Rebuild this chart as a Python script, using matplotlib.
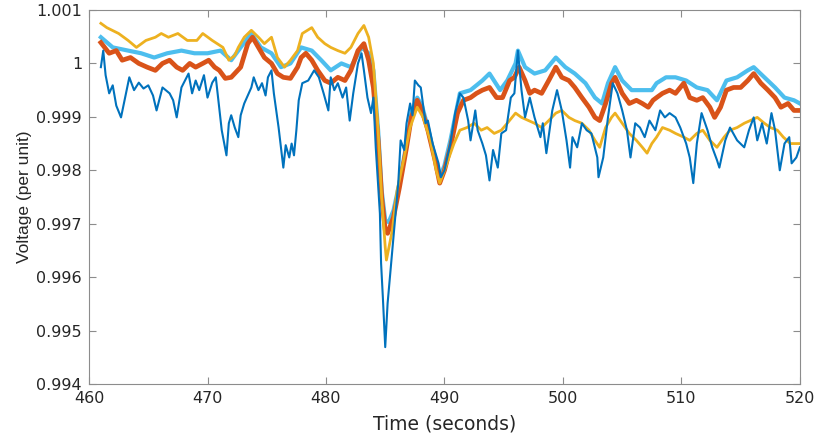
import numpy as np
import matplotlib
matplotlib.use('Agg')
import matplotlib.pyplot as plt

# bus voltages around the disturbance at ~485 s (per unit)
t_blue = [461.0, 461.2, 461.4, 461.7, 462.0, 462.3, 462.7, 463.0, 463.4, 463.8,
          464.2, 464.6, 465.0, 465.4, 465.7, 466.2, 466.8, 467.1, 467.4, 467.8,
          468.4, 468.7, 469.0, 469.3, 469.7, 470.0, 470.4, 470.7, 471.2, 471.6,
          471.8, 472.0, 472.3, 472.6, 472.8, 473.1, 473.4, 473.7, 473.9, 474.3,
          474.6, 474.9, 475.1, 475.4, 475.6, 476.0, 476.4, 476.6, 476.9, 477.1,
          477.3, 477.5, 477.7, 478.0, 478.5, 479.0, 479.4, 479.8, 480.2, 480.4,
          480.7, 481.0, 481.4, 481.7, 482.0, 482.3, 482.7, 483.0, 483.2, 483.5,
          483.8, 484.0, 484.2, 484.55, 484.65, 484.8, 485.0, 485.2, 485.5, 485.8,
          486.1, 486.3, 486.6, 486.8, 487.1, 487.3, 487.5, 487.8, 488.0, 488.4,
          488.6, 489.0, 489.5, 489.7, 490.0, 490.5, 490.9, 491.3, 491.6, 492.0,
          492.2, 492.6, 492.8, 493.2, 493.5, 493.8, 494.1, 494.5, 494.8, 495.2,
          495.6, 495.9, 496.2, 496.5, 496.8, 497.2, 497.6, 498.1, 498.3, 498.6,
          499.1, 499.5, 499.9, 500.3, 500.6, 500.8, 501.2, 501.6, 502.0, 502.4,
          502.9, 503.0, 503.4, 503.8, 504.2, 504.6, 505.0, 505.4, 505.7, 506.1,
          506.5, 506.9, 507.3, 507.8, 508.2, 508.6, 509.0, 509.5, 509.9, 510.4,
          510.7, 511.0, 511.3, 511.7, 512.2, 512.6, 513.0, 513.2, 513.7, 514.1,
          514.7, 515.3, 515.7, 516.1, 516.4, 516.8, 517.2, 517.6, 517.9, 518.3,
          518.7, 519.1, 519.3, 519.7, 520.0]
v_blue = [0.99993, 1.00024, 0.99978, 0.99944, 0.99959, 0.99921, 0.99899, 0.99931, 0.99974, 0.99950,
          0.99964, 0.99953, 0.99959, 0.99940, 0.99912, 0.99955, 0.99944, 0.99931, 0.99899, 0.99955,
          0.99981, 0.99944, 0.99968, 0.99950, 0.99978, 0.99936, 0.99964, 0.99974, 0.99875, 0.99828,
          0.99888, 0.99903, 0.99880, 0.99862, 0.99903, 0.99925, 0.99940, 0.99955, 0.99974, 0.99950,
          0.99963, 0.99940, 0.99974, 0.99987, 0.99944, 0.99880, 0.99805, 0.99847, 0.99824, 0.99850,
          0.99828, 0.99875, 0.99931, 0.99963, 0.99968, 0.99987, 0.99974, 0.99944, 0.99912, 0.99974,
          0.99950, 0.99963, 0.99936, 0.99955, 0.99893, 0.99944, 1.00000, 1.00019, 0.99987, 0.99936,
          0.99907, 0.99936, 0.99843, 0.99719, 0.99626, 0.99562, 0.99469, 0.99551, 0.99626, 0.99701,
          0.99776, 0.99856, 0.99838, 0.99888, 0.99925, 0.99903, 0.99968, 0.99959, 0.99955, 0.99888,
          0.99893, 0.99850, 0.99813, 0.99787, 0.99800, 0.99850, 0.99907, 0.99944, 0.99936, 0.99893,
          0.99856, 0.99912, 0.99875, 0.99850, 0.99828, 0.99781, 0.99838, 0.99805, 0.99869, 0.99875,
          0.99936, 0.99944, 1.00024, 0.99950, 0.99899, 0.99936, 0.99899, 0.99862, 0.99888, 0.99832,
          0.99912, 0.99950, 0.99912, 0.99856, 0.99805, 0.99862, 0.99843, 0.99888, 0.99875, 0.99869,
          0.99824, 0.99787, 0.99824, 0.99899, 0.99963, 0.99944, 0.99912, 0.99875, 0.99824, 0.99888,
          0.99880, 0.99862, 0.99893, 0.99875, 0.99912, 0.99899, 0.99907, 0.99899, 0.99880, 0.99850,
          0.99824, 0.99776, 0.99850, 0.99907, 0.99875, 0.99843, 0.99819, 0.99805, 0.99856, 0.99880,
          0.99856, 0.99843, 0.99875, 0.99899, 0.99856, 0.99888, 0.99850, 0.99907, 0.99875, 0.99800,
          0.99850, 0.99862, 0.99813, 0.99824, 0.99843]

t_orange = [461.0, 461.7, 462.3, 462.8, 463.5, 464.2, 464.9, 465.6, 466.2, 466.8,
            467.4, 467.9, 468.5, 469.0, 469.6, 470.1, 470.6, 471.0, 471.5, 472.0,
            472.8, 473.4, 473.8, 474.3, 474.8, 475.4, 475.9, 476.4, 477.0, 477.6,
            477.9, 478.3, 478.8, 479.3, 479.9, 480.4, 481.0, 481.6, 482.1, 482.7,
            483.2, 483.6, 484.0, 484.4, 484.7, 485.0, 485.2, 485.7, 486.2, 486.8,
            487.2, 487.7, 488.1, 488.6, 489.2, 489.6, 490.0, 490.5, 491.1, 491.6,
            492.2, 492.7, 493.2, 493.8, 494.4, 494.9, 495.5, 495.9, 496.3, 496.8,
            497.2, 497.6, 498.2, 498.8, 499.4, 499.9, 500.5, 501.0, 501.6, 502.2,
            502.7, 503.1, 503.6, 504.1, 504.4, 505.0, 505.6, 506.2, 506.7, 507.2,
            507.6, 507.9, 508.4, 509.0, 509.5, 510.2, 510.7, 511.3, 511.8, 512.4,
            512.8, 513.3, 513.8, 514.4, 515.0, 515.6, 516.1, 516.7, 517.3, 517.9,
            518.4, 519.0, 519.5, 520.0]
v_orange = [1.00039, 1.00019, 1.00024, 1.00006, 1.00011, 1.00000, 0.99993, 0.99987, 1.00000, 1.00006,
            0.99993, 0.99987, 1.00000, 0.99993, 1.00000, 1.00006, 0.99993, 0.99987, 0.99972, 0.99974,
            0.99993, 1.00037, 1.00049, 1.00030, 1.00011, 1.00000, 0.99981, 0.99974, 0.99972, 0.99993,
            1.00011, 1.00019, 1.00006, 0.99987, 0.99968, 0.99963, 0.99974, 0.99968, 0.99987, 1.00024,
            1.00037, 1.00006, 0.99955, 0.99856, 0.99749, 0.99688, 0.99682, 0.99712, 0.99768, 0.99843,
            0.99899, 0.99931, 0.99912, 0.99875, 0.99819, 0.99776, 0.99800, 0.99843, 0.99907, 0.99931,
            0.99936, 0.99944, 0.99950, 0.99955, 0.99936, 0.99936, 0.99968, 0.99974, 0.99993, 0.99968,
            0.99944, 0.99950, 0.99944, 0.99968, 0.99993, 0.99974, 0.99968, 0.99955, 0.99936, 0.99918,
            0.99899, 0.99893, 0.99925, 0.99963, 0.99974, 0.99944, 0.99925, 0.99931, 0.99925, 0.99918,
            0.99931, 0.99936, 0.99944, 0.99950, 0.99944, 0.99963, 0.99936, 0.99931, 0.99936, 0.99918,
            0.99899, 0.99918, 0.99950, 0.99955, 0.99955, 0.99968, 0.99981, 0.99963, 0.99950, 0.99936,
            0.99918, 0.99925, 0.99912, 0.99912]

t_yellow = [461.0, 461.5, 462.5, 463.3, 464.0, 464.8, 465.6, 466.1, 466.7, 467.5,
            468.3, 469.1, 469.6, 470.4, 471.3, 471.8, 472.3, 472.6, 473.1, 473.7,
            474.3, 474.8, 475.4, 475.9, 476.5, 477.0, 477.6, 478.0, 478.8, 479.3,
            479.9, 480.4, 481.0, 481.6, 482.1, 482.7, 483.2, 483.6, 484.0, 484.4,
            484.7, 485.0, 485.1, 485.6, 486.0, 486.6, 487.1, 487.7, 488.2, 488.8,
            489.3, 489.6, 490.0, 490.8, 491.3, 491.9, 492.5, 493.1, 493.6, 494.2,
            494.8, 495.3, 496.0, 496.5, 497.1, 497.6, 498.2, 498.8, 499.4, 499.9,
            500.5, 501.0, 501.6, 502.2, 502.7, 503.1, 503.6, 504.1, 504.4, 505.0,
            505.6, 506.2, 506.7, 507.1, 507.5, 507.9, 508.4, 509.0, 509.5, 510.2,
            510.7, 511.3, 511.8, 512.4, 513.0, 513.6, 514.1, 514.7, 515.3, 515.8,
            516.4, 517.0, 517.5, 518.1, 518.6, 519.2, 520.0]
v_yellow = [1.00075, 1.00067, 1.00056, 1.00043, 1.00030, 1.00043, 1.00049, 1.00056, 1.00049, 1.00056,
            1.00043, 1.00043, 1.00056, 1.00043, 1.00030, 1.00006, 1.00015, 1.00030, 1.00049, 1.00062,
            1.00049, 1.00037, 1.00049, 1.00011, 0.99993, 1.00006, 1.00024, 1.00056, 1.00067, 1.00049,
            1.00037, 1.00030, 1.00024, 1.00019, 1.00030, 1.00056, 1.00071, 1.00049, 1.00000, 0.99875,
            0.99749, 0.99656, 0.99632, 0.99688, 0.99762, 0.99824, 0.99880, 0.99918, 0.99899, 0.99856,
            0.99800, 0.99776, 0.99800, 0.99850, 0.99875, 0.99880, 0.99888, 0.99875, 0.99880, 0.99869,
            0.99875, 0.99888, 0.99907, 0.99899, 0.99893, 0.99888, 0.99880, 0.99893, 0.99907, 0.99912,
            0.99899, 0.99893, 0.99888, 0.99875, 0.99856, 0.99843, 0.99880, 0.99899, 0.99907, 0.99888,
            0.99869, 0.99856, 0.99843, 0.99832, 0.99850, 0.99862, 0.99880, 0.99875, 0.99869, 0.99862,
            0.99856, 0.99869, 0.99875, 0.99856, 0.99843, 0.99862, 0.99875, 0.99880, 0.99888, 0.99893,
            0.99899, 0.99888, 0.99880, 0.99875, 0.99862, 0.99850, 0.99850]

t_cyan = [461.0, 462.0, 463.3, 464.4, 465.5, 466.6, 467.8, 468.9, 470.0, 471.1,
          472.0, 472.8, 473.7, 474.5, 475.4, 476.2, 477.0, 477.9, 478.8, 479.6,
          480.4, 481.3, 482.1, 483.0, 483.6, 484.0, 484.4, 484.7, 485.0, 485.3,
          485.7, 486.2, 486.8, 487.2, 487.7, 488.1, 488.6, 489.2, 489.6, 490.0,
          490.5, 491.3, 492.2, 493.2, 493.8, 494.7, 495.3, 496.0, 496.2, 496.8,
          497.6, 498.5, 499.4, 500.2, 501.0, 501.9, 502.7, 503.3, 503.8, 504.4,
          505.0, 505.8, 506.7, 507.5, 507.9, 508.7, 509.5, 510.4, 511.3, 512.2,
          513.0, 513.8, 514.7, 515.6, 516.1, 517.0, 517.9, 518.7, 519.5, 520.0]
v_cyan = [1.00049, 1.00030, 1.00024, 1.00019, 1.00011, 1.00019, 1.00024, 1.00019, 1.00019, 1.00024,
          1.00006, 1.00030, 1.00056, 1.00030, 1.00019, 0.99993, 1.00000, 1.00030, 1.00024, 1.00006,
          0.99987, 1.00000, 0.99993, 1.00030, 1.00019, 0.99987, 0.99875, 0.99762, 0.99706, 0.99703,
          0.99725, 0.99776, 0.99850, 0.99907, 0.99936, 0.99921, 0.99880, 0.99824, 0.99787, 0.99809,
          0.99856, 0.99944, 0.99950, 0.99968, 0.99981, 0.99950, 0.99968, 1.00000, 1.00024, 0.99993,
          0.99981, 0.99987, 1.00011, 0.99993, 0.99981, 0.99963, 0.99936, 0.99925, 0.99963, 0.99993,
          0.99968, 0.99950, 0.99950, 0.99950, 0.99963, 0.99974, 0.99974, 0.99968, 0.99955, 0.99950,
          0.99931, 0.99968, 0.99974, 0.99987, 0.99993, 0.99974, 0.99955, 0.99936, 0.99931, 0.99925]

matplotlib.rcParams.update({'font.family': ['DejaVu Sans'], 'font.size': 11.5})

fig = plt.figure(figsize=(8.19, 4.42), dpi=100)
ax = fig.add_axes([0.1087, 0.1312, 0.868, 0.8462])

ax.plot(t_cyan, v_cyan, color='#4DBEEE', lw=3.0)
ax.plot(t_orange, v_orange, color='#D95319', lw=3.4)
ax.plot(t_yellow, v_yellow, color='#EDB120', lw=2.0)
ax.plot(t_blue, v_blue, color='#0072BD', lw=1.5)

ax.set_xlim(460, 520)
ax.set_ylim(0.994, 1.001)
ax.set_xticks(np.arange(460, 521, 10))
ax.set_yticks([0.994, 0.995, 0.996, 0.997, 0.998, 0.999, 1.0, 1.001])
ax.set_yticklabels(['0.994', '0.995', '0.996', '0.997', '0.998', '0.999', '1', '1.001'])

for s in ax.spines.values():
    s.set_color('#8c8c8c')
    s.set_linewidth(0.8)
ax.tick_params(direction='in', length=5, width=0.8, color='#8c8c8c',
               labelcolor='#262626', labelsize=11.5, top=True, right=True,
               labeltop=False, labelright=False)
ax.tick_params(axis='x', pad=5)
ax.tick_params(axis='y', pad=5)

ax.set_xlabel('Time (seconds)', fontsize=13.5, color='#262626', labelpad=6)
ax.set_ylabel('Voltage (per unit)', fontsize=12.5, color='#262626', labelpad=3,
              family=['Liberation Sans', 'DejaVu Sans'])

fig.savefig('out.png', dpi=100)
